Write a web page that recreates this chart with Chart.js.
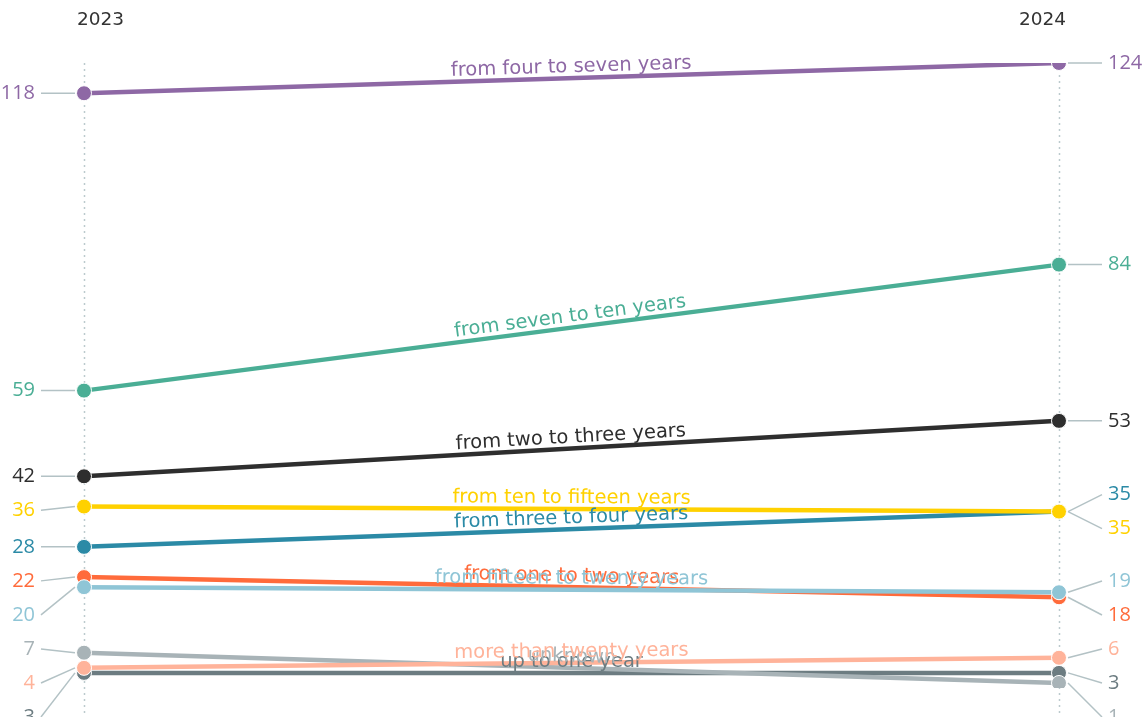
<!DOCTYPE html>
<html>
<head>
<meta charset="utf-8">
<script src="https://cdn.jsdelivr.net/npm/chart.js@4/dist/chart.umd.min.js"></script>
<style>
  html, body { margin: 0; padding: 0; background: #fff; }
  .wrap { width: 1143px; height: 717px; position: relative; }
</style>
</head>
<body>
<div class="wrap"><canvas id="slope"></canvas></div>
<script>
const years = ['2023', '2024']
// drawing order: first = bottom
const names = [
  'up to one year',
  'unknown',
  'more than twenty years',
  'from one to two years',
  'from fifteen to twenty years',
  'from three to four years',
  'from ten to fifteen years',
  'from two to three years',
  'from seven to ten years',
  'from four to seven years'
]
const values2023 = [3, 7, 4, 22, 20, 28, 36, 42, 59, 118]
const values2024 = [3, 1, 6, 18, 19, 35, 35, 53, 84, 124]
const colours = [
  '#6c7c81',
  '#a8b3b7',
  '#ffb39a',
  '#ff6b3b',
  '#8fc5d6',
  '#2b8aa6',
  '#ffd100',
  '#2e2e2e',
  '#4aae95',
  '#8e68a5'
]

const font = 'DejaVu Sans'
const numFont = 'Open Sans'
const gap = 34

// spread ties, push overlapping labels down, then back up from the bottom edge
const spread = (items, bottom) => {
  items.sort((a, b) => a.y - b.y || a.i - b.i)
  let k = 0
  while (k < items.length) {
    let j = k
    while (j + 1 < items.length && Math.abs(items[j + 1].y - items[k].y) < 0.5) j++
    const n = j - k + 1
    for (let m = k; m <= j; m++) items[m].ly = items[m].y + (m - k - (n - 1) / 2) * gap
    k = j + 1
  }
  items.forEach((it, m) => {
    if (m > 0) it.ly = Math.max(it.ly, items[m - 1].ly + gap)
  })
  for (let m = items.length - 1; m >= 0; m--) {
    const lim = m === items.length - 1 ? bottom : items[m + 1].ly - gap
    items[m].ly = Math.min(items[m].ly, lim)
  }
  return items
}

const slopeLabels = {
  id: 'slopeLabels',
  beforeDatasetsDraw (chart) {
    const { ctx, chartArea } = chart
    const xs = chart.scales.x
    ctx.save()
    ctx.strokeStyle = '#bccacd'
    ctx.lineWidth = 1.5
    ctx.setLineDash([2, 4])
    years.forEach((y, i) => {
      const x = Math.round(xs.getPixelForValue(i)) + 0.5
      ctx.beginPath()
      ctx.moveTo(x, chartArea.top)
      ctx.lineTo(x, chart.height)
      ctx.stroke()
    })
    ctx.setLineDash([])
    ctx.fillStyle = '#333'
    ctx.font = `18.5px "${font}"`
    ctx.textBaseline = 'middle'
    ctx.textAlign = 'left'
    ctx.fillText(years[0], xs.getPixelForValue(0) - 7, 20)
    ctx.textAlign = 'right'
    ctx.fillText(years[1], xs.getPixelForValue(1) + 7, 20)
    ctx.restore()
  },
  afterDatasetsDraw (chart) {
    const { ctx } = chart
    const xs = chart.scales.x
    const ys = chart.scales.y
    const x0 = xs.getPixelForValue(0)
    const x1 = xs.getPixelForValue(1)
    ctx.save()
    // series names along each line
    ctx.font = `19.5px "${font}"`
    ctx.textAlign = 'center'
    ctx.textBaseline = 'alphabetic'
    names.forEach((n, i) => {
      const y0 = ys.getPixelForValue(values2023[i])
      const y1 = ys.getPixelForValue(values2024[i])
      const a = Math.atan2(y1 - y0, x1 - x0)
      ctx.save()
      ctx.translate((x0 + x1) / 2, (y0 + y1) / 2)
      ctx.rotate(a)
      ctx.fillStyle = colours[i]
      ctx.fillText(n, 0, -6)
      ctx.restore()
    })
    // value labels with leaders
    ctx.font = `20px "${numFont}"`
    ctx.textBaseline = 'middle'
    const sides = [
      { vals: values2023, x: x0, dir: -1 },
      { vals: values2024, x: x1, dir: 1 }
    ]
    sides.forEach(side => {
      const items = spread(side.vals.map((v, i) => ({ i, v, y: ys.getPixelForValue(v) })), chart.height)
      items.forEach(it => {
        ctx.strokeStyle = '#b3c2c5'
        ctx.lineWidth = 1.5
        ctx.beginPath()
        ctx.moveTo(side.x + side.dir * 9, it.y)
        ctx.lineTo(side.x + side.dir * 43, it.ly)
        ctx.stroke()
        ctx.fillStyle = colours[it.i]
        ctx.textAlign = side.dir < 0 ? 'right' : 'left'
        ctx.fillText(String(it.v), side.x + side.dir * 49, it.ly)
      })
    })
    ctx.restore()
  }
}

new Chart(document.getElementById('slope'), {
  type: 'line',
  data: {
    labels: years,
    datasets: names.map((n, i) => ({
      label: n,
      data: [values2023[i], values2024[i]],
      borderColor: colours[i],
      backgroundColor: colours[i],
      pointBackgroundColor: colours[i],
      pointBorderColor: '#fff',
      pointBorderWidth: 1,
      pointRadius: 7.5,
      borderWidth: 4.5,
      order: names.length - i
    }))
  },
  options: {
    responsive: true,
    maintainAspectRatio: false,
    animation: false,
    layout: { padding: { left: 84, right: 84, top: 63, bottom: 29 } },
    scales: {
      x: { display: false, offset: false },
      y: { display: false, min: 0, max: 124 }
    },
    plugins: {
      legend: { display: false },
      tooltip: { enabled: false }
    }
  },
  plugins: [slopeLabels]
})
</script>
</body>
</html>
